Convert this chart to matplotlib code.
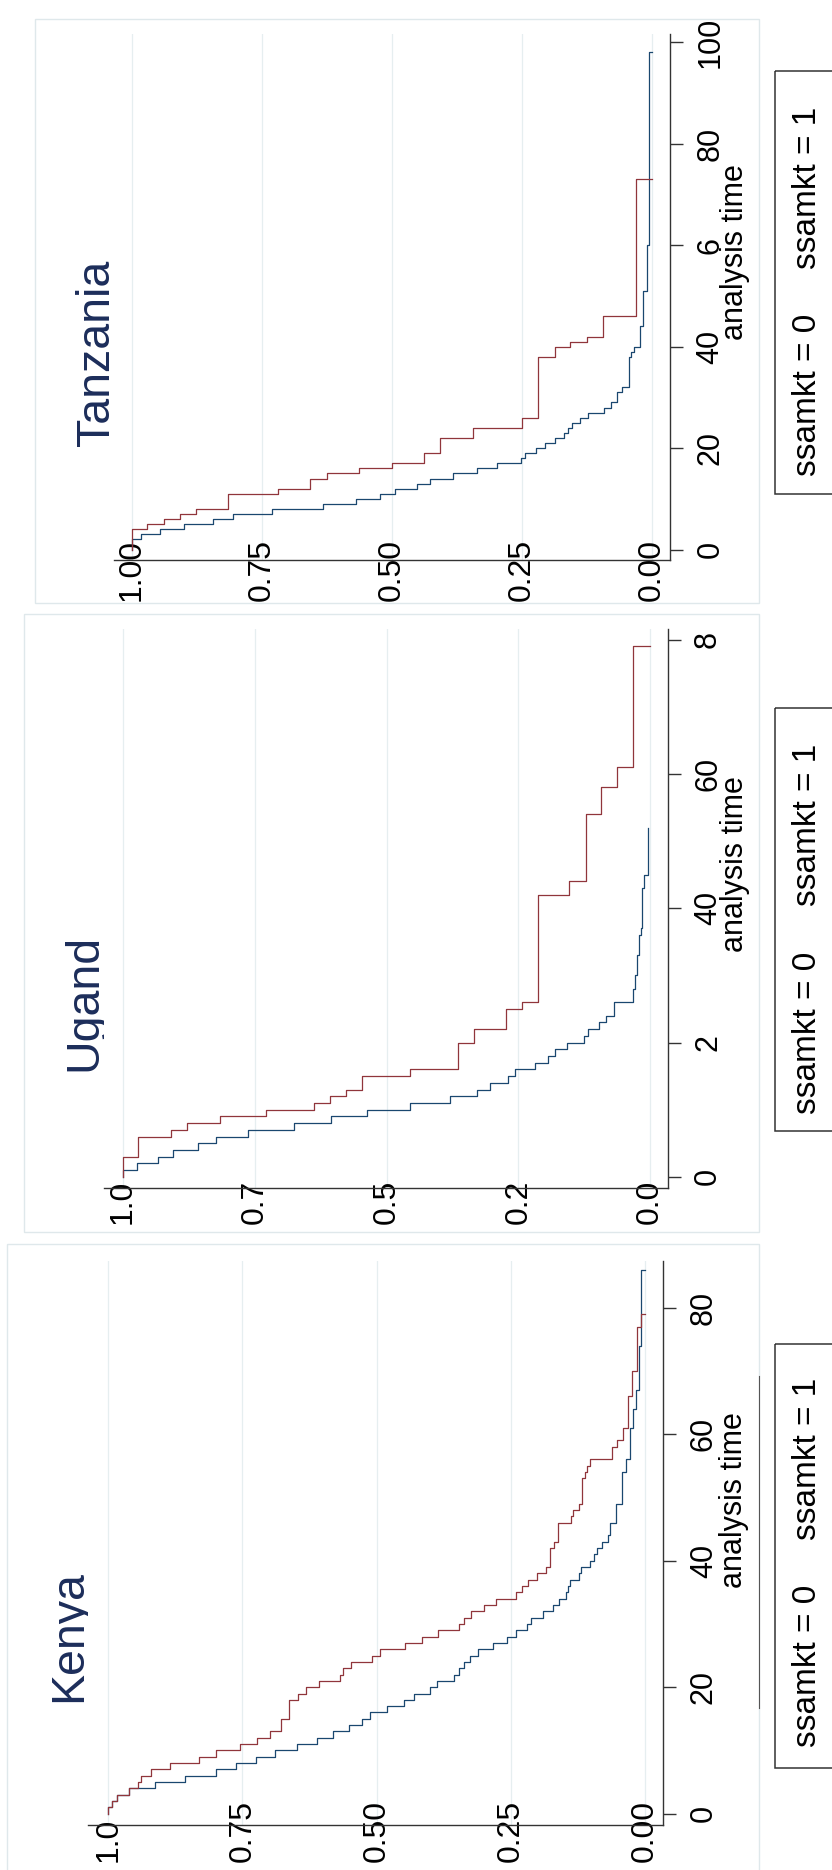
import numpy as np
import matplotlib
matplotlib.use("Agg")
import matplotlib.pyplot as plt
from matplotlib.patches import Rectangle

plt.rcParams['font.family'] = ['Liberation Sans', 'DejaVu Sans']

# ---------------- data (Kaplan-Meier steps: event time, survival after event) ----------------
ken_t0 = [1, 2, 3, 4, 5, 6, 7, 8, 9, 10, 11, 12, 13, 14, 15, 16, 17, 18, 19, 20, 21, 22, 23, 24, 25,
          26, 27, 28, 29, 30, 31, 32, 33, 34, 35, 36, 37, 38, 39, 40, 41, 42, 43, 44, 46, 49, 54, 56,
          61, 64, 67, 74, 86]
ken_s0 = [.993, .983, .962, .913, .857, .799, .762, .724, .690, .649, .612, .582, .551, .528, .513,
          .481, .450, .430, .401, .387, .356, .346, .337, .326, .311, .284, .258, .240, .220, .212,
          .191, .172, .161, .147, .144, .140, .123, .119, .102, .096, .089, .081, .070, .066, .055,
          .043, .036, .028, .022, .018, .0115, .0078, 0.0]
ken_t1 = [1, 2, 3, 4, 5, 6, 7, 8, 9, 10, 11, 12, 13, 15, 18, 19, 20, 21, 22, 23, 24, 25, 26, 27, 28,
          29, 30, 31, 32, 33, 34, 35, 36, 37, 38, 39, 42, 43, 46, 47, 48, 49, 53, 54, 55, 56, 58, 59,
          61, 66, 70, 77, 79]
ken_s1 = [.993, .983, .962, .944, .938, .920, .885, .830, .799, .754, .723, .699, .678, .663, .646,
          .631, .608, .569, .563, .547, .509, .494, .447, .415, .386, .346, .337, .324, .301, .278,
          .240, .230, .218, .201, .185, .177, .170, .163, .139, .134, .123, .117, .113, .108, .102,
          .062, .053, .041, .032, .0246, .016, .0084, 0.0]

uga_t0 = [1, 2, 3, 4, 5, 6, 7, 8, 9, 10, 11, 12, 13, 14, 15, 16, 17, 18, 19, 20, 21, 22, 23, 24, 26,
          28, 30, 33, 36, 37, 43, 45, 52]
uga_s0 = [.973, .934, .906, .857, .824, .763, .675, .606, .538, .456, .380, .329, .303, .269, .256,
          .218, .194, .180, .157, .125, .118, .096, .084, .069, .033, .029, .025, .021, .018, .015,
          .012, .0044, .0044]
uga_t1 = [3, 6, 7, 8, 9, 10, 11, 12, 13, 15, 16, 20, 22, 25, 26, 42, 44, 54, 58, 61, 79]
uga_s1 = [.971, .910, .879, .817, .728, .638, .607, .577, .546, .455, .365, .334, .273, .243, .212,
          .153, .122, .093, .0626, .032, 0.0]

tza_t0 = [2, 3, 4, 5, 6, 7, 8, 9, 10, 11, 12, 13, 14, 15, 16, 17, 18, 19, 20, 21, 22, 23, 24, 25, 26,
          27, 28, 29, 31, 32, 38, 39, 40, 44, 51, 60, 98]
tza_s0 = [.982, .945, .899, .843, .805, .730, .631, .569, .523, .494, .451, .427, .382, .335, .297,
          .251, .243, .222, .205, .185, .169, .161, .154, .138, .122, .091, .078, .067, .057, .044,
          .040, .034, .023, .017, .0094, .0044, 0.0]
tza_t1 = [4, 5, 6, 7, 8, 11, 12, 14, 15, 16, 17, 19, 22, 24, 26, 38, 40, 41, 42, 46, 73]
tza_s1 = [.970, .938, .906, .876, .814, .719, .656, .625, .563, .500, .437, .407, .344, .249, .218,
          .186, .156, .125, .094, .030, 0.0]

surv_ticks = [1.0, 0.75, 0.5, 0.25, 0.0]
ken_surv_labels = ["1.0", "0.75", "0.50", "0.25", "0.00"]
uga_surv_labels = ["1.0", "0.7", "0.5", "0.2", "0.0"]
tza_surv_labels = ["1.00", "0.75", "0.50", "0.25", "0.00"]
ken_time_ticks = [0, 20, 40, 60, 80]
ken_time_labels = ["0", "20", "40", "60", "80"]
uga_time_ticks = [0, 20, 40, 60, 80]
uga_time_labels = ["0", "2", "40", "60", "8"]
tza_time_ticks = [0, 20, 40, 60, 80, 100]
tza_time_labels = ["0", "20", "40", "6", "80", "100"]
legend_labels = ["ssamkt = 0", "ssamkt = 1"]

# ---------------- figure ----------------
W, H, DPI = 832, 1870, 100
fig = plt.figure(figsize=(W / DPI, H / DPI), dpi=DPI)
fig.patch.set_facecolor("white")

NAVY = "#1a476f"
MAROON = "#90353b"
TITLE_C = "#1c2d5a"
FRAME_C = "#dfe8eb"
GRID_C = "#e6eef0"
AX_C = "#333333"

ov = fig.add_axes([0, 0, 1, 1], zorder=0)
ov.set_xlim(0, W)
ov.set_ylim(H, 0)
ov.axis("off")

panels = [
    dict(title="Tanzania", t0=tza_t0, s0=tza_s0, t1=tza_t1, s1=tza_s1,
         box=(114, 670, 33.6, 559.5), xlim=(1.0338, -0.0354), ylim=(-1.95, 101.7),
         sl=tza_surv_labels, tt=tza_time_ticks, tl=tza_time_labels, spad=41.5,
         frame=(34.5, 18.6, 759, 603), title_xy=(109, 353), atitle_xy=(743, 252),
         leg=(775, 71, 494), leg_y=(395, 188)),
    dict(title="Ugand", t0=uga_t0, s0=uga_s0, t1=uga_t1, s1=uga_s1,
         box=(103.5, 667.5, 629.4, 1187.8), xlim=(1.0372, -0.0332), ylim=(-1.638, 81.52),
         sl=uga_surv_labels, tt=uga_time_ticks, tl=uga_time_labels, spad=36.7,
         frame=(24, 613.5, 759, 1232), title_xy=(96, 1002), atitle_xy=(743, 864),
         leg=(775, 708, 1130.6), leg_y=(1032.6, 824.6)),
    dict(title="Kenya", t0=ken_t0, s0=ken_s0, t1=ken_t1, s1=ken_s1,
         box=(87.5, 663.3, 1260.6, 1824.8), xlim=(1.0385, -0.0337), ylim=(-1.755, 87.43),
         sl=ken_surv_labels, tt=ken_time_ticks, tl=ken_time_labels, spad=37,
         frame=(7.4, 1243.5, 759, 1900), title_xy=(81, 1636), atitle_xy=(742, 1500),
         leg=(775, 1344, 1768), leg_y=(1666, 1459)),
]

PX2PT = 72.0 / DPI

for p in panels:
    # light outer frame of each sub-graph
    fx0, fy0, fx1, fy1 = p["frame"]
    ov.add_patch(Rectangle((fx0, fy0), fx1 - fx0, fy1 - fy0, fill=False,
                           edgecolor=FRAME_C, lw=1.0))
    # legend box
    lx, ly0, ly1 = p["leg"]
    ov.add_patch(Rectangle((lx, ly0), 200, ly1 - ly0, fill=False, edgecolor=AX_C, lw=1.1))
    for lab, yc in zip(legend_labels, p["leg_y"]):
        ov.text(816, yc, lab, rotation=90, rotation_mode="anchor", ha="center",
                va="baseline", fontsize=24, color="black")
    # title
    ov.text(p["title_xy"][0], p["title_xy"][1], p["title"], rotation=90,
            rotation_mode="anchor", ha="center", va="baseline", fontsize=33.5, color=TITLE_C)
    # axis title
    ov.text(p["atitle_xy"][0], p["atitle_xy"][1], "analysis time", rotation=90,
            rotation_mode="anchor", ha="center", va="baseline", fontsize=22, color="black")

    x0, x1, y0, y1 = p["box"]
    ax = fig.add_axes([x0 / W, 1 - y1 / H, (x1 - x0) / W, (y1 - y0) / H], zorder=2)
    ax.set_facecolor("white")
    ax.set_xlim(*p["xlim"])
    ax.set_ylim(*p["ylim"])
    for side in ("top", "left"):
        ax.spines[side].set_visible(False)
    for side in ("bottom", "right"):
        ax.spines[side].set_color(AX_C)
        ax.spines[side].set_linewidth(1.0)

    # survival axis (horizontal, bottom)
    ax.set_xticks(surv_ticks)
    ax.set_xticklabels(p["sl"], rotation=90, va="bottom", ha="center", fontsize=23)
    ax.tick_params(axis="x", length=0, pad=p["spad"] * PX2PT)
    ax.grid(axis="x", color=GRID_C, lw=0.9)
    ax.set_axisbelow(True)

    # time axis (vertical, right)
    ax.yaxis.tick_right()
    ax.set_yticks(p["tt"])
    ax.set_yticklabels(p["tl"], rotation=90, va="center", ha="left", fontsize=22)
    ax.tick_params(axis="y", length=12.5 * PX2PT, width=1.0, color=AX_C, pad=13 * PX2PT)

    # KM curves: survival on x, time on y
    for tt, ss, col in ((p["t0"], p["s0"], NAVY), (p["t1"], p["s1"], MAROON)):
        t = np.concatenate([[0.0], np.asarray(tt, float)])
        s = np.concatenate([[1.0], np.asarray(ss, float)])
        ax.step(s, t, where="pre", color=col, lw=0.9)

# stray partial border line in the Kenya graph
ov.plot([759, 759], [1376, 1708], color="#555555", lw=0.8)

fig.savefig("out.png", dpi=DPI, facecolor="white")
